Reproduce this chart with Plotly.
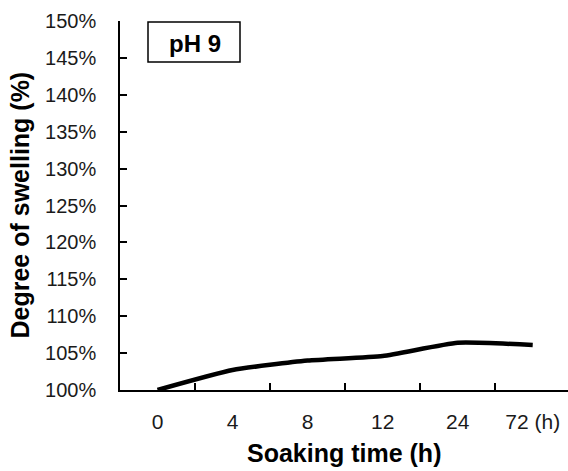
import plotly.graph_objects as go

# Soaking time categories (hours) and degree of swelling (%)
soak_hours = ["0", "4", "8", "12", "24", "72"]
hour_labels = ["0", "4", "8", "12", "24", "72 (h)"]
swelling_pct = [100.0, 102.7, 104.0, 104.6, 106.4, 106.1]
y_ticks = [100, 105, 110, 115, 120, 125, 130, 135, 140, 145, 150]
panel_label = "pH 9"

FONT = "Liberation Sans, Arial, sans-serif"

fig = go.Figure()
fig.add_trace(go.Scatter(
    x=soak_hours,
    y=swelling_pct,
    mode="lines",
    line=dict(color="black", width=4.5, shape="spline", smoothing=0.5),
    showlegend=False,
    hoverinfo="skip",
))

fig.update_layout(
    width=568,
    height=471,
    margin=dict(l=120, r=0, t=21, b=81),
    paper_bgcolor="white",
    plot_bgcolor="white",
    font=dict(family=FONT, size=20, color="#1a1a1a"),
)

fig.update_xaxes(
    type="category",
    categoryarray=soak_hours,
    range=[-0.5, 5.47],
    tickson="boundaries",
    tickvals=soak_hours,
    ticktext=hour_labels,
    ticks="inside",
    ticklen=7,
    tickwidth=1.5,
    tickcolor="black",
    showline=True,
    linecolor="black",
    linewidth=1.5,
    showgrid=False,
    zeroline=False,
    ticklabelstandoff=12,
    tickfont=dict(family=FONT, size=21, color="#1a1a1a"),
)

fig.update_yaxes(
    range=[100, 150],
    tickvals=y_ticks,
    ticktext=[f"{v}%" for v in y_ticks],
    ticks="inside",
    ticklen=7,
    tickwidth=1.5,
    tickcolor="black",
    showline=True,
    linecolor="black",
    linewidth=1.5,
    showgrid=False,
    zeroline=False,
    ticklabelstandoff=18,
    tickfont=dict(family=FONT, size=20, color="#1a1a1a"),
)

# Axis titles
fig.add_annotation(
    text="<b>Soaking time (h)</b>",
    xref="paper", yref="paper", x=0.5, y=-0.171,
    xanchor="center", yanchor="middle", showarrow=False,
    font=dict(family=FONT, size=25, color="black"),
)
fig.add_annotation(
    text="<b>Degree of swelling (%)</b>",
    xref="paper", yref="paper", x=-0.2254, y=0.5,
    xanchor="center", yanchor="middle", textangle=-90, showarrow=False,
    font=dict(family=FONT, size=25, color="black"),
)

# Boxed panel label
fig.add_shape(
    type="rect", xref="paper", yref="paper",
    x0=(148 - 120) / 448, x1=(240 - 120) / 448,
    y0=(390 - 62) / 369, y1=(390 - 22) / 369,
    line=dict(color="black", width=1.5), fillcolor="white",
)
fig.add_annotation(
    text=f"<b>{panel_label}</b>",
    xref="paper", yref="paper", x=(194.5 - 120) / 448, y=(390 - 43) / 369,
    xanchor="center", yanchor="middle", showarrow=False,
    font=dict(family=FONT, size=24, color="black"),
)

fig.write_html("out.html")
